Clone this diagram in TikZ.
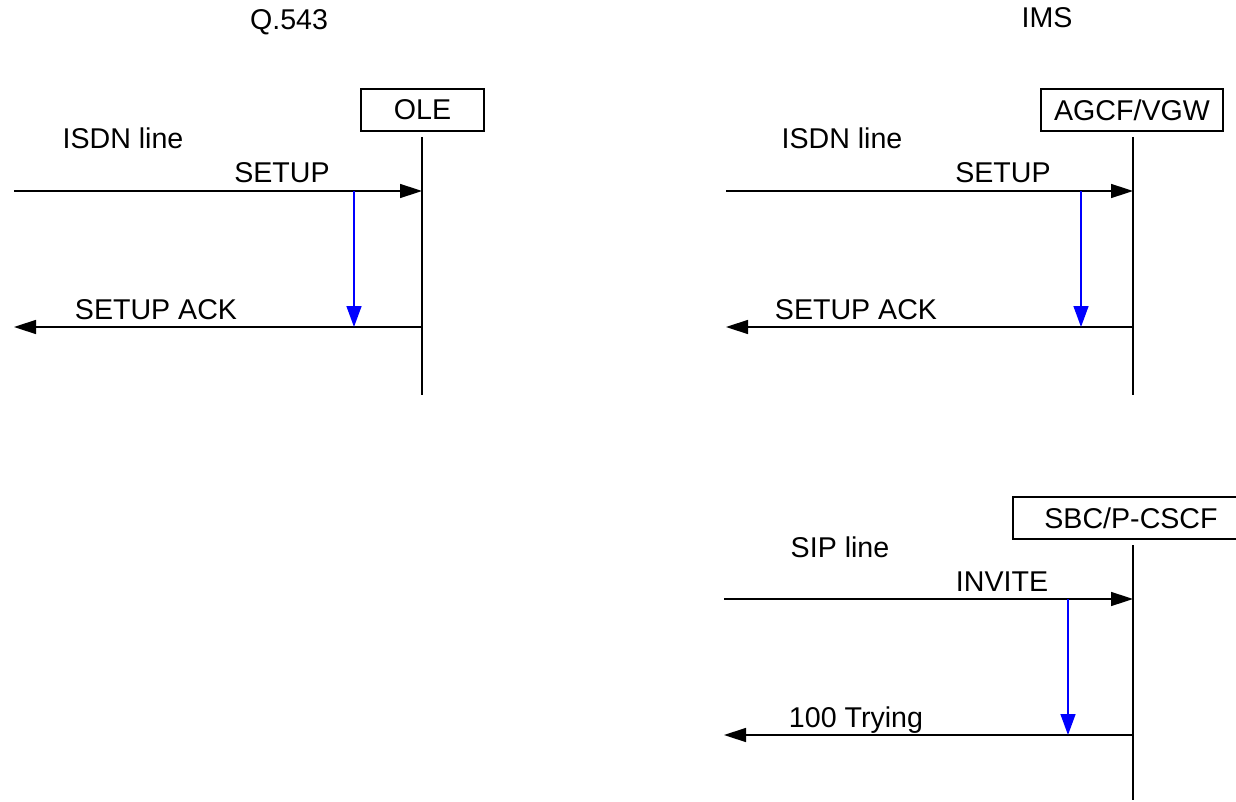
\documentclass[tikz,border=0pt]{standalone}
\usepackage{fontspec}
\setmainfont{Liberation Sans}
\usetikzlibrary{arrows.meta}
\begin{document}
\begin{tikzpicture}[x=0.5pt,y=-0.5pt,
  lbl/.style={inner sep=0pt,anchor=base,font=\fontsize{14.3}{17}\selectfont},
  ent/.style={draw,line width=0.7pt,inner sep=0pt,minimum height=21pt,font=\fontsize{14.3}{17}\selectfont},
  life/.style={line width=0.75pt},
  msg/.style={line width=0.75pt,-{Triangle[length=11pt,width=7pt]}},
  blu/.style={blue,line width=0.75pt,-{Triangle[length=10.5pt,width=7.5pt]}}]
\useasboundingbox (0,0) rectangle (1236,802);
% headers
\node[lbl] (q543) at (289,30) {Q.543};
\node[lbl] (ims) at (1047,28) {IMS};
% --- Q.543 side
\node[ent,minimum width=61.5pt] (ole) at (422.5,110) {OLE};
\coordinate (oleT) at (422,137);
\coordinate (oleB) at (422,395);
\draw[life] (oleT) -- (oleB);
\node[lbl] (isdn1) at (123,149) {ISDN line};
\coordinate (s1L) at (14,191);
\coordinate (s1R) at (422,191);
\draw[msg] (s1L) -- (s1R);
\node[lbl] (setup1) at (282,183) {SETUP};
\coordinate (a1R) at (422,327);
\coordinate (a1L) at (14,327);
\draw[msg] (a1R) -- (a1L);
\node[lbl] (ack1) at (156,319) {SETUP ACK};
\coordinate (b1T) at (354,191);
\coordinate (b1B) at (354,327);
\draw[blu] (b1T) -- (b1B);
% --- IMS ISDN side
\node[ent,minimum width=91pt] (agcf) at (1132,110) {AGCF/VGW};
\coordinate (agT) at (1133,137);
\coordinate (agB) at (1133,395);
\draw[life] (agT) -- (agB);
\node[lbl] (isdn2) at (842,149) {ISDN line};
\coordinate (s2L) at (726,191);
\coordinate (s2R) at (1133,191);
\draw[msg] (s2L) -- (s2R);
\node[lbl] (setup2) at (1003,183) {SETUP};
\coordinate (a2R) at (1133,327);
\coordinate (a2L) at (726,327);
\draw[msg] (a2R) -- (a2L);
\node[lbl] (ack2) at (856,319) {SETUP ACK};
\coordinate (b2T) at (1081,191);
\coordinate (b2B) at (1081,327);
\draw[blu] (b2T) -- (b2B);
% --- IMS SIP side
\node[lbl] (sbc) at (1131,528) {SBC/P-CSCF};
\draw[line width=0.7pt] (1240,497) -- (1013,497) -- (1013,539) -- (1240,539);
\coordinate (sbT) at (1133,545);
\coordinate (sbB) at (1133,800);
\draw[life] (sbT) -- (sbB);
\node[lbl] (sip) at (840,557) {SIP line};
\coordinate (s3L) at (724,599);
\coordinate (s3R) at (1133,599);
\draw[msg] (s3L) -- (s3R);
\node[lbl] (invite) at (1002,591) {INVITE};
\coordinate (a3R) at (1133,735);
\coordinate (a3L) at (724,735);
\draw[msg] (a3R) -- (a3L);
\node[lbl] (trying) at (856,727) {100 Trying};
\coordinate (b3T) at (1068,599);
\coordinate (b3B) at (1068,735);
\draw[blu] (b3T) -- (b3B);
\end{tikzpicture}
\end{document}
